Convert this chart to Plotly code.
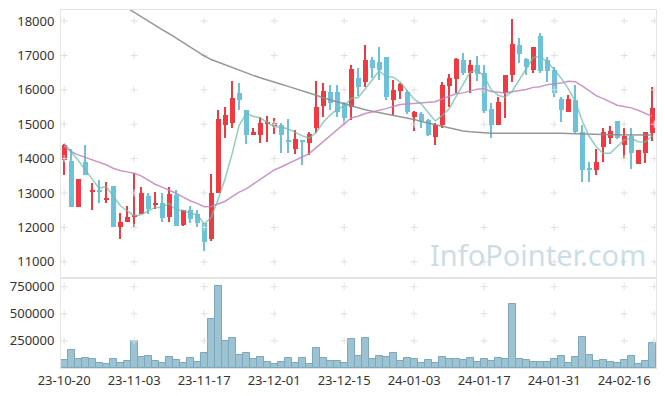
import plotly.graph_objects as go
from plotly.subplots import make_subplots

dates = ['23-10-20','23-10-23','23-10-24','23-10-25','23-10-26','23-10-27','23-10-30','23-10-31',
 '23-11-01','23-11-02','23-11-03','23-11-06','23-11-07','23-11-08','23-11-09','23-11-10','23-11-13',
 '23-11-14','23-11-15','23-11-16','23-11-17','23-11-20','23-11-21','23-11-22','23-11-23','23-11-24',
 '23-11-27','23-11-28','23-11-29','23-11-30',
 '23-12-01','23-12-04','23-12-05','23-12-06','23-12-07','23-12-08','23-12-11','23-12-12','23-12-13',
 '23-12-14','23-12-15','23-12-18','23-12-19','23-12-20','23-12-21','23-12-22','23-12-26','23-12-27',
 '23-12-28',
 '24-01-02','24-01-03','24-01-04','24-01-05','24-01-08','24-01-09','24-01-10','24-01-11','24-01-12',
 '24-01-15','24-01-16','24-01-17','24-01-18','24-01-19','24-01-22','24-01-23','24-01-24','24-01-25',
 '24-01-26','24-01-29','24-01-30','24-01-31',
 '24-02-01','24-02-02','24-02-05','24-02-06','24-02-07','24-02-08','24-02-13','24-02-14','24-02-15',
 '24-02-16','24-02-19','24-02-20','24-02-21','24-02-22']

opens = [13970,13930,12600,13900,13040,13070,12800,13200,12020,12160,
 12320,12390,12910,12670,12700,12310,12940,12070,12510,12380,
 12120,11650,13010,14980,15040,15900,15410,14690,14690,15010,
 14950,14980,14500,14270,14520,14440,14880,15540,15940,15940,
 15630,15510,16330,16240,16870,16810,16940,15700,15980,15930,
 15220,15310,15120,14640,14980,16120,16300,16870,16500,16720,
 16500,15440,14990,15920,16420,17300,16910,16580,17560,16870,
 16580,15720,15360,15700,14780,13680,13670,14330,14610,15090,
 14400,14660,13830,14170,14750]
highs = [14420,14270,13410,14390,13280,13380,13330,13200,12410,12630,
 13570,13170,13010,13020,13010,13180,13090,12520,12620,12510,
 12130,13540,15410,15510,16260,16190,15420,14880,15220,15230,
 15170,15030,15140,14830,14540,14780,16260,16190,16130,16130,
 15650,16720,16620,17300,16960,17250,16950,16290,16210,16000,
 15380,15360,15140,15040,16240,16450,16920,17080,16870,16980,
 16720,15610,15780,16440,18050,17500,16920,17250,17640,16960,
 16650,15780,15850,16140,14980,13910,14270,14880,14960,15100,
 14880,14880,14260,14770,16070]
lows = [13520,12600,12600,13530,12500,12700,12720,12020,11650,12150,
 12000,12390,12390,12530,12170,12170,12030,12050,12120,12000,
 11320,11600,12990,14610,14880,15410,14420,14680,14440,14490,
 14720,14170,14150,14130,13810,14110,14740,15200,15410,15200,
 15030,15120,15820,16090,16340,16290,15700,15270,15720,15300,
 14810,14880,14660,14400,14880,15510,15900,16430,15900,16270,
 15320,14590,14980,15170,16240,16790,16430,16480,16480,16240,
 15800,15070,15350,14750,13330,13330,13520,13910,14420,14580,
 13980,13690,13830,13860,14510]
closes = [14400,12600,13410,13530,13090,13050,12870,12020,12160,12290,
 12370,13000,12530,12720,12280,12960,12040,12510,12240,12120,
 11590,12990,15140,15260,15750,15700,14690,14760,15030,15060,
 15040,14690,14490,14570,14510,14730,15490,15970,15630,15360,
 15190,16600,16090,16870,16620,16580,15780,15990,16170,15360,
 15350,15090,14690,14980,16140,16350,16890,16480,16720,16460,
 15390,14990,15650,16430,17330,17030,16670,17240,16560,16560,
 15920,15410,15720,14780,13670,13670,13890,14760,14800,14590,
 14660,14150,14250,14760,15460]
volumes = [73000,165000,82000,91000,82000,46000,37000,82000,46000,64000,
 247000,100000,110000,64000,46000,98000,73000,46000,91000,55000,
 137000,448000,759000,247000,280000,119000,137000,82000,100000,55000,
 34000,55000,91000,46000,91000,37000,183000,91000,64000,62000,
 43000,271000,107000,281000,79000,107000,98000,134000,61000,88000,
 79000,43000,70000,43000,98000,79000,79000,70000,88000,52000,
 79000,61000,88000,79000,592000,79000,70000,52000,52000,52000,
 79000,107000,43000,98000,290000,116000,61000,70000,52000,43000,
 70000,107000,34000,61000,235000]
ma_short = [14440,14200,13950,13680,13406,13136,13190,12912,12638,12478,
 12342,12368,12470,12582,12580,12698,12506,12502,12406,12374,
 12100,12290,12816,13420,14146,14968,15308,15232,15186,15048,
 14916,14916,14862,14770,14660,14598,14758,15054,15266,15436,
 15528,15750,15774,16022,16274,16552,16388,16368,16228,15976,
 15730,15592,15332,15094,15250,15450,15810,16168,16516,16580,
 16388,16008,15842,15784,15958,16286,16622,16940,16966,16812,
 16590,16338,16034,15678,15100,14650,14346,14154,14158,14342,
 14540,14592,14490,14482,14656]
ma_mid = [14370,14206,14110,14040,13965,13895,13820,13720,13655,13615,
 13575,13500,13380,13255,13170,13090,12995,12880,12775,12700,
 12600,12610,12675,12762,12895,13027,13118,13255,13399,13537,
 13671,13755,13853,13946,14057,14146,14318,14491,14661,14823,
 15003,15183,15231,15311,15355,15399,15453,15515,15572,15587,
 15602,15622,15632,15653,15734,15815,15885,15911,15965,16020,
 16030,15950,15928,15906,15941,15964,16008,16071,16090,16150,
 16179,16195,16246,16236,16113,15979,15829,15743,15647,15553,
 15517,15475,15405,15321,15228]
ma_long = [19500,19380,19260,19130,19010,18880,18760,18630,18510,18380,
 18250,18130,18000,17880,17750,17630,17500,17380,17250,17120,
 16990,16880,16800,16720,16640,16570,16490,16420,16350,16280,
 16220,16160,16100,16040,15970,15900,15840,15770,15710,15640,
 15580,15530,15470,15420,15380,15340,15300,15270,15230,15190,
 15140,15080,15030,14980,14930,14880,14840,14800,14780,14760,
 14750,14740,14740,14740,14745,14745,14750,14750,14750,14755,
 14750,14740,14730,14720,14715,14710,14700,14700,14695,14690,
 14690,14690,14690,14690,14690]

price_ticks = [11000, 12000, 13000, 14000, 15000, 16000, 17000, 18000]
volume_ticks = [250000, 500000, 750000]

UP = '#ee3a40'
DOWN = '#6cc2da'
FONT = 'Noto Sans'

idx = list(range(len(dates)))
colors = [UP if c >= o else DOWN for o, c in zip(opens, closes)]
body_base = [min(o, c) for o, c in zip(opens, closes)]
body_h = [max(abs(c - o), 45) for o, c in zip(opens, closes)]
wick_h = [h - l for h, l in zip(highs, lows)]

fig = make_subplots(rows=2, cols=1, shared_xaxes=True, vertical_spacing=0,
                    row_heights=[0.7486, 0.2514])

# grid crosses
tick_idx = idx[::10]
cross_x = tick_idx + [84.3]
px_, py_ = [], []
for yv in price_ticks:
    for xv in cross_x:
        px_.append(xv); py_.append(yv)
vx_, vy_ = [], []
for yv in volume_ticks:
    for xv in cross_x:
        vx_.append(xv); vy_.append(yv)
cross_marker = dict(symbol='cross-thin', size=5, color='#e0e0e0',
                    line=dict(width=1, color='#e0e0e0'))
fig.add_trace(go.Scatter(x=px_, y=py_, mode='markers', marker=cross_marker,
                         hoverinfo='skip'), row=1, col=1)
fig.add_trace(go.Scatter(x=vx_, y=vy_, mode='markers', marker=cross_marker,
                         hoverinfo='skip'), row=2, col=1)

# candles
fig.add_trace(go.Bar(x=idx, y=wick_h, base=lows, width=0.15,
                     marker=dict(color=colors, line=dict(width=0))), row=1, col=1)
fig.add_trace(go.Bar(x=idx, y=body_h, base=body_base, width=0.72,
                     marker=dict(color=colors, line=dict(width=0))), row=1, col=1)

# moving averages
fig.add_trace(go.Scatter(x=idx, y=ma_long, mode='lines',
                         line=dict(color='rgba(140,140,140,0.9)', width=1.5)), row=1, col=1)
fig.add_trace(go.Scatter(x=idx, y=ma_mid, mode='lines',
                         line=dict(color='rgba(196,130,192,0.85)', width=1.5)), row=1, col=1)
fig.add_trace(go.Scatter(x=idx, y=ma_short, mode='lines',
                         line=dict(color='rgba(110,190,172,0.75)', width=1.5)), row=1, col=1)

# volume
fig.add_trace(go.Bar(x=idx, y=volumes, width=1.0,
                     marker=dict(color='#9dc2d2', line=dict(color='#7ca8bd', width=1))),
              row=2, col=1)

axis_common = dict(showgrid=False, zeroline=False, showline=True, mirror=True,
                   linecolor='#e4e4e4', linewidth=1, automargin=False)
fig.update_xaxes(**axis_common, range=[-0.45, 84.55], tickvals=tick_idx,
                 ticktext=[dates[i] for i in tick_idx], ticks='')
fig.update_xaxes(showticklabels=False, row=1, col=1)
fig.update_xaxes(tickfont=dict(family=FONT, size=13, color='#333333'), row=2, col=1)
fig.update_yaxes(**axis_common, ticks='', ticklabelstandoff=3,
                 tickfont=dict(family=FONT, size=13, color='#333333'))
fig.update_yaxes(range=[10530, 18320], tickvals=price_ticks,
                 ticktext=[str(v) for v in price_ticks], row=1, col=1)
fig.update_yaxes(range=[0, 830000], tickvals=volume_ticks,
                 ticktext=[str(v) for v in volume_ticks], row=2, col=1)

fig.add_annotation(text='InfoPointer.com', xref='paper', yref='paper', x=0.8017, y=0.318,
                   xanchor='center', yanchor='middle', showarrow=False,
                   font=dict(family=FONT, size=29, color='rgba(170,198,214,0.6)'))

fig.update_layout(width=665, height=396, margin=dict(l=61, r=9, t=10, b=28),
                  paper_bgcolor='white', plot_bgcolor='white', showlegend=False,
                  barmode='overlay', bargap=0, hovermode=False)

fig.write_html('out.html', config={'displayModeBar': False},
               post_script="document.body.style.margin='0px';")
